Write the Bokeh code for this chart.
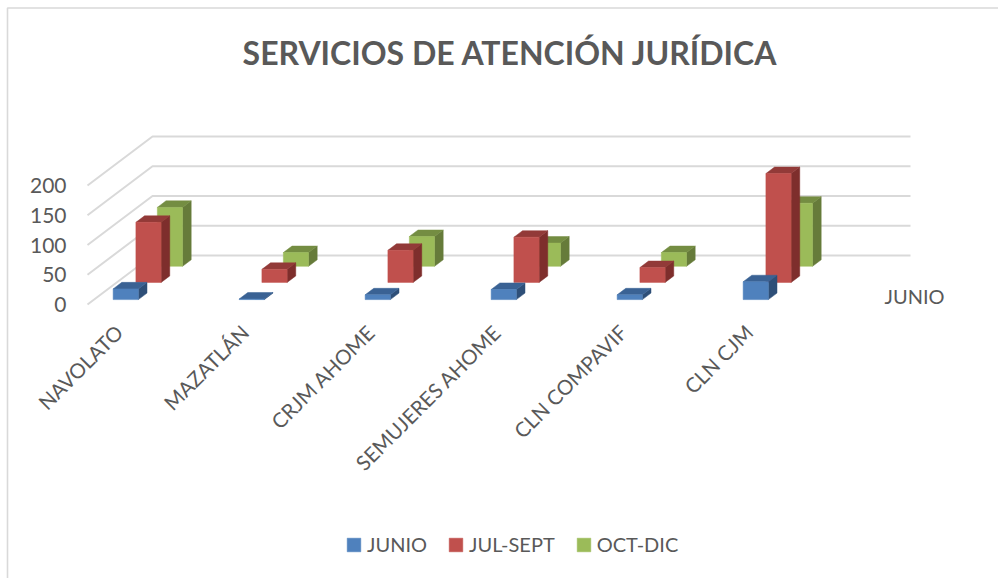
from bokeh.plotting import figure
from bokeh.models import (FixedTicker, Label, Legend, LegendItem, LinearAxis, Range1d)
from bokeh.embed import file_html
from bokeh.resources import INLINE

# ---- data ----
categories = ["NAVOLATO", "MAZATLÁN", "CRJM AHOME", "SEMUJERES AHOME", "CLN COMPAVIF", "CLN CJM"]
junio = [18, 1, 8, 17, 8, 30]
jul_sept = [101, 22, 54, 76, 25, 183]
oct_dic = [99, 23, 50, 39, 23, 106]
value_ticks = [0, 50, 100, 150, 200]
title_text = "SERVICIOS DE ATENCIÓN JURÍDICA"
series_axis_label = "JUNIO"

FONT = "Lato"
TEXT = "#595959"
GRID = "#d9d9d9"

W, H = 998, 578
ORIGIN_X, ORIGIN_Y = 87, 304       # where category 0 / value 0 sit on the page
PX_PER_CAT = 126.0
PX_PER_VAL = 0.595
DEPTH_X = 65 / PX_PER_CAT          # full floor depth, in category units
DEPTH_Y = 49 / PX_PER_VAL          # full floor depth, in value units
BAR_OFF = 0.152
BAR_W = 0.2
BAR_D = 0.133
WALL_PAD = 2 / PX_PER_CAT


def proj(x, v, z):
    return x + z * DEPTH_X, v + z * DEPTH_Y


def page_x(px):
    return (px - ORIGIN_X) / PX_PER_CAT


def page_y(py):
    return (ORIGIN_Y - py) / PX_PER_VAL


p = figure(width=W, height=H, output_backend="svg", toolbar_location=None,
           x_axis_type=None, y_axis_type=None,
           x_range=Range1d(page_x(0), page_x(W)),
           y_range=Range1d(page_y(H), page_y(0)),
           min_border=0, outline_line_color=None)
p.grid.visible = False

# chart-area border: only its top and left edges show in the reference
p.line([page_x(7), page_x(7), page_x(W)], [page_y(H), page_y(7.5), page_y(7.5)],
       line_color=GRID, line_width=1.6)

# axes, pinned to the chart's origin
yaxis = LinearAxis(fixed_location=0, ticker=FixedTicker(ticks=value_ticks),
                   axis_line_color=None, major_tick_line_color=None, minor_tick_line_color=None,
                   major_tick_in=0, major_tick_out=0, major_label_standoff=21,
                   major_label_text_font=FONT, major_label_text_font_size="21px",
                   major_label_text_color=TEXT)
p.add_layout(yaxis, "left")

cat_ticks = [i + 0.25 for i in range(len(categories))]
xaxis = LinearAxis(fixed_location=0, ticker=FixedTicker(ticks=cat_ticks),
                   major_label_overrides={t: c for t, c in zip(cat_ticks, categories)},
                   axis_line_color=None, major_tick_line_color=None, minor_tick_line_color=None,
                   major_tick_in=0, major_tick_out=0, major_label_standoff=24,
                   major_label_orientation=0.785,
                   major_label_text_font=FONT, major_label_text_font_size="20.5px",
                   major_label_text_color=TEXT)
p.add_layout(xaxis, "below")

# 3-D walls: gridlines along side wall and back wall
n = len(categories)
for v in value_ticks:
    x0, y0 = proj(0, v, 0)
    x1, y1 = proj(0, v, 1)
    x2, y2 = proj(n + WALL_PAD, v, 1)
    p.line([x0, x1, x2], [y0, y1, y2], line_color=GRID, line_width=2)

# bars
series = [
    ("JUNIO", junio, 0.10, "#4f81bd", "#3a6294", "#2e4f78"),
    ("JUL-SEPT", jul_sept, 0.45, "#c0504d", "#923a38", "#7e2e2c"),
    ("OCT-DIC", oct_dic, 0.78, "#9bbb59", "#748d42", "#667b3a"),
]
handles = {}
for name, vals, z0, front, top, side in reversed(series):
    fx, fy, tx, ty, sx, sy = [], [], [], [], [], []
    for i, v in enumerate(vals):
        x0, x1 = i + BAR_OFF, i + BAR_OFF + BAR_W
        z1 = z0 + BAR_D
        a = proj(x0, 0, z0); b = proj(x1, 0, z0)
        c = proj(x1, v, z0); d = proj(x0, v, z0)
        e = proj(x1, v, z1); f = proj(x0, v, z1); g = proj(x1, 0, z1)
        fx.append([a[0], b[0], c[0], d[0]]); fy.append([a[1], b[1], c[1], d[1]])
        tx.append([d[0], c[0], e[0], f[0]]); ty.append([d[1], c[1], e[1], f[1]])
        sx.append([b[0], g[0], e[0], c[0]]); sy.append([b[1], g[1], e[1], c[1]])
    p.patches(sx, sy, fill_color=side, line_color=side, line_width=0.5)
    p.patches(tx, ty, fill_color=top, line_color=top, line_width=0.5)
    handles[name] = p.patches(fx, fy, fill_color=front, line_color=front, line_width=0.5)

legend = Legend(items=[LegendItem(label=s[0], renderers=[handles[s[0]]]) for s in series],
                orientation="horizontal", location=(345, H - 556),
                background_fill_alpha=0, border_line_color=None, padding=0, margin=0,
                spacing=20, glyph_width=17, glyph_height=17, label_standoff=5,
                label_text_font=FONT, label_text_font_size="20px", label_text_color=TEXT)
p.add_layout(legend, "center")

p.add_layout(Label(x=page_x(884), y=0, y_offset=9, text=series_axis_label, text_font=FONT,
                   text_font_size="20px", text_color=TEXT, text_baseline="alphabetic"))
p.add_layout(Label(x=page_x(510), y=page_y(52), text=title_text,
                   text_font=FONT, text_font_size="32px", text_font_style="bold",
                   text_color=TEXT, text_align="center", text_baseline="middle"))

open("out.html", "w").write(file_html(p, INLINE))
